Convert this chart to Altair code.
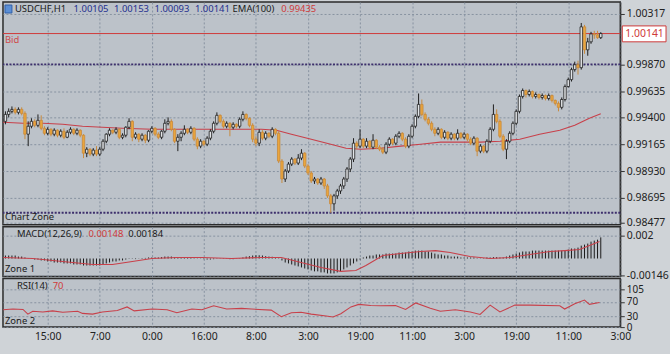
import altair as alt
import pandas as pd

# ---------------- data ----------------
open_ = [0.99369,0.99430,0.99457,0.99474,0.99448,0.99474,0.99439,0.99256,0.99326,0.99369,
         0.99334,0.99378,0.99308,0.99264,0.99299,0.99256,0.99291,0.99247,0.99282,0.99229,
         0.99273,0.99299,0.99264,0.99291,0.99247,0.99089,0.99124,0.99081,0.99116,0.99081,
         0.99124,0.99194,0.99256,0.99291,0.99273,0.99299,0.99229,0.99247,0.99317,0.99369,
         0.99229,0.99256,0.99212,0.99247,0.99203,0.99282,0.99308,0.99256,0.99229,0.99282,
         0.99352,0.99369,0.99299,0.99194,0.99229,0.99264,0.99299,0.99273,0.99308,0.99212,
         0.99151,0.99194,0.99168,0.99221,0.99282,0.99352,0.99422,0.99369,0.99326,0.99352,
         0.99317,0.99343,0.99326,0.99387,0.99430,0.99396,0.99334,0.99212,0.99177,0.99273,
         0.99221,0.99264,0.99238,0.99299,0.99264,0.99020,0.98862,0.98932,0.98993,0.99037,
         0.99002,0.99046,0.99089,0.98976,0.98915,0.98845,0.98862,0.98827,0.98862,0.98801,
         0.98714,0.98644,0.98714,0.98757,0.98801,0.98862,0.98950,0.99037,0.99177,0.99151,
         0.99212,0.99151,0.99194,0.99142,0.99203,0.99142,0.99124,0.99098,0.99168,0.99212,
         0.99177,0.99238,0.99264,0.99212,0.99151,0.99238,0.99326,0.99413,0.99518,0.99430,
         0.99387,0.99352,0.99299,0.99264,0.99299,0.99229,0.99273,0.99221,0.99256,0.99221,
         0.99264,0.99229,0.99256,0.99212,0.99177,0.99221,0.99107,0.99151,0.99107,0.99194,
         0.99299,0.99430,0.99369,0.99238,0.99124,0.99194,0.99264,0.99352,0.99457,0.99588,
         0.99640,0.99605,0.99631,0.99588,0.99605,0.99579,0.99596,0.99570,0.99596,0.99553,
         0.99527,0.99492,0.99561,0.99675,0.99736,0.99824,0.99867,0.99841,1.00200,0.99998,
         1.00068,1.00138,1.00130,1.00105]
high = [0.99457,0.99483,0.99500,0.99492,0.99492,0.99492,0.99457,0.99369,0.99396,0.99387,
        0.99430,0.99422,0.99326,0.99317,0.99308,0.99308,0.99299,0.99299,0.99308,0.99291,
        0.99317,0.99308,0.99308,0.99299,0.99256,0.99142,0.99133,0.99133,0.99151,0.99142,
        0.99212,0.99264,0.99308,0.99299,0.99317,0.99308,0.99264,0.99326,0.99396,0.99378,
        0.99273,0.99264,0.99264,0.99256,0.99291,0.99326,0.99317,0.99273,0.99291,0.99387,
        0.99404,0.99387,0.99308,0.99256,0.99282,0.99334,0.99308,0.99326,0.99317,0.99229,
        0.99212,0.99203,0.99238,0.99299,0.99369,0.99448,0.99430,0.99387,0.99369,0.99361,
        0.99361,0.99352,0.99404,0.99457,0.99439,0.99404,0.99352,0.99238,0.99299,0.99291,
        0.99282,0.99273,0.99317,0.99308,0.99282,0.99037,0.98950,0.99011,0.99054,0.99046,
        0.99081,0.99124,0.99098,0.98993,0.98932,0.98880,0.98871,0.98880,0.98871,0.98819,
        0.98731,0.98731,0.98775,0.98819,0.98880,0.98967,0.99054,0.99221,0.99194,0.99299,
        0.99221,0.99221,0.99203,0.99256,0.99212,0.99159,0.99142,0.99186,0.99229,0.99221,
        0.99256,0.99282,0.99273,0.99229,0.99256,0.99343,0.99430,0.99614,0.99561,0.99448,
        0.99404,0.99369,0.99317,0.99317,0.99308,0.99291,0.99282,0.99273,0.99264,0.99299,
        0.99273,0.99273,0.99264,0.99229,0.99238,0.99229,0.99168,0.99159,0.99212,0.99317,
        0.99518,0.99474,0.99387,0.99256,0.99212,0.99282,0.99369,0.99474,0.99605,0.99658,
        0.99649,0.99649,0.99640,0.99623,0.99614,0.99614,0.99605,0.99614,0.99605,0.99561,
        0.99544,0.99579,0.99693,0.99754,0.99841,0.99894,0.99902,1.00234,1.00217,1.00103,
        1.00156,1.00165,1.00165,1.00153]
low = [0.99343,0.99404,0.99439,0.99430,0.99430,0.99422,0.99212,0.99151,0.99308,0.99317,
       0.99317,0.99291,0.99247,0.99247,0.99238,0.99238,0.99229,0.99229,0.99212,0.99221,
       0.99256,0.99247,0.99247,0.99229,0.99046,0.99054,0.99063,0.99063,0.99063,0.99063,
       0.99107,0.99177,0.99238,0.99256,0.99256,0.99212,0.99212,0.99229,0.99299,0.99194,
       0.99212,0.99186,0.99194,0.99177,0.99186,0.99264,0.99238,0.99212,0.99212,0.99264,
       0.99334,0.99282,0.99177,0.99107,0.99194,0.99247,0.99256,0.99256,0.99194,0.99124,
       0.99133,0.99151,0.99151,0.99203,0.99264,0.99334,0.99352,0.99308,0.99308,0.99238,
       0.99299,0.99308,0.99308,0.99369,0.99378,0.99317,0.99186,0.99151,0.99151,0.99203,
       0.99203,0.99221,0.99221,0.99247,0.99002,0.98827,0.98836,0.98915,0.98976,0.98985,
       0.98985,0.99028,0.98958,0.98897,0.98827,0.98819,0.98810,0.98810,0.98775,0.98696,
       0.98565,0.98583,0.98688,0.98731,0.98775,0.98836,0.98923,0.99011,0.99124,0.99133,
       0.99133,0.99133,0.99124,0.99124,0.99124,0.99107,0.99081,0.99081,0.99151,0.99159,
       0.99159,0.99221,0.99194,0.99133,0.99133,0.99221,0.99308,0.99396,0.99413,0.99369,
       0.99334,0.99282,0.99238,0.99247,0.99212,0.99212,0.99203,0.99203,0.99203,0.99203,
       0.99212,0.99212,0.99194,0.99159,0.99159,0.99063,0.99089,0.99089,0.99089,0.99177,
       0.99282,0.99352,0.99221,0.99107,0.99037,0.99177,0.99247,0.99334,0.99439,0.99570,
       0.99579,0.99588,0.99570,0.99570,0.99561,0.99561,0.99553,0.99553,0.99535,0.99509,
       0.99457,0.99474,0.99544,0.99666,0.99719,0.99806,0.99780,0.99824,0.99963,0.99946,
       1.00051,1.00095,1.00095,1.00093]
close = [0.99430,0.99457,0.99474,0.99448,0.99474,0.99439,0.99256,0.99326,0.99369,0.99334,
         0.99378,0.99308,0.99264,0.99299,0.99256,0.99291,0.99247,0.99282,0.99229,0.99273,
         0.99299,0.99264,0.99291,0.99247,0.99089,0.99124,0.99081,0.99116,0.99081,0.99124,
         0.99194,0.99256,0.99291,0.99273,0.99299,0.99229,0.99247,0.99317,0.99369,0.99229,
         0.99256,0.99212,0.99247,0.99203,0.99282,0.99308,0.99256,0.99229,0.99282,0.99352,
         0.99369,0.99299,0.99194,0.99229,0.99264,0.99299,0.99273,0.99308,0.99212,0.99151,
         0.99194,0.99168,0.99221,0.99282,0.99352,0.99422,0.99369,0.99326,0.99352,0.99317,
         0.99343,0.99326,0.99387,0.99430,0.99396,0.99334,0.99212,0.99177,0.99273,0.99221,
         0.99264,0.99238,0.99299,0.99264,0.99020,0.98862,0.98932,0.98993,0.99037,0.99002,
         0.99046,0.99089,0.98976,0.98915,0.98845,0.98862,0.98827,0.98862,0.98801,0.98714,
         0.98644,0.98714,0.98757,0.98801,0.98862,0.98950,0.99037,0.99177,0.99151,0.99212,
         0.99151,0.99194,0.99142,0.99203,0.99142,0.99124,0.99098,0.99168,0.99212,0.99177,
         0.99238,0.99264,0.99212,0.99151,0.99238,0.99326,0.99413,0.99518,0.99430,0.99387,
         0.99352,0.99299,0.99264,0.99299,0.99229,0.99273,0.99221,0.99256,0.99221,0.99264,
         0.99229,0.99256,0.99212,0.99177,0.99221,0.99107,0.99151,0.99107,0.99194,0.99299,
         0.99430,0.99369,0.99238,0.99124,0.99194,0.99264,0.99352,0.99457,0.99588,0.99640,
         0.99605,0.99631,0.99588,0.99605,0.99579,0.99596,0.99570,0.99596,0.99553,0.99527,
         0.99492,0.99561,0.99675,0.99736,0.99824,0.99867,0.99841,1.00200,0.99998,1.00068,
         1.00138,1.00130,1.00105,1.00141]

ema_idx = [0.3,6.4,12.5,18.6,24.7,30.8,36.9,46.0,61.4,79.7,84.3,88.9,95.0,101.0,105.7,
           110.2,116.3,122.5,128.6,134.7,147.0,153.0,159.1,165.2,171.4,176.0,180.5,184.0]
ema_val = [0.99361,0.99352,0.99352,0.99343,0.99326,0.99317,0.99308,0.99299,0.99299,0.99299,
           0.99291,0.99256,0.99212,0.99168,0.99133,0.99124,0.99133,0.99151,0.99168,0.99186,
           0.99186,0.99194,0.99212,0.99256,0.99291,0.99334,0.99396,0.99435]

macd_hist = [0.00026,0.00026,0.00026,0.00026,0.00017,0.00017,0.00009,0.00002,-0.00002,
             -0.00009,-0.00009,-0.00017,-0.00017,-0.00026,-0.00026,-0.00035,-0.00035,-0.00035,
             -0.00043,-0.00043,-0.00043,-0.00052,-0.00052,-0.00052,-0.00061,-0.00061,-0.00061,-0.00061,-0.00061,-0.00061,-0.00052,
             -0.00043,-0.00035,-0.00026,-0.00026,-0.00017,-0.00017,
             -0.00009,-0.00003,0.00003,-0.00005,0.00002,0.00004,0.00005,0.00009,0.00009,
             0.00009,0.00009,0.00012,0.00017,0.00017,0.00017,0.00012,0.00009,0.00009,0.00009,0.00009,0.00006,0.00003,0.00002,-0.00002,
             -0.00006,-0.00009,-0.00009,-0.00006,-0.00003,0.00002,0.00003,-0.00003,-0.00006,-0.00006,-0.00002,0.00003,
             0.00009,0.00017,0.00020,0.00026,0.00028,0.00028,0.00026,0.00020,0.00017,0.00015,
             0.00009,-0.00003,-0.00017,-0.00035,-0.00043,-0.00052,-0.00061,-0.00069,-0.00078,-0.00087,-0.00095,-0.00104,-0.00112,-0.00112,-0.00121,-0.00121,-0.00130,-0.00130,-0.00130,
             -0.00121,-0.00112,-0.00095,-0.00078,-0.00061,
             -0.00043,-0.00026,-0.00009,
             0.00009,0.00017,0.00026,0.00026,0.00035,0.00035,0.00035,
             0.00043,0.00043,0.00043,0.00043,0.00052,0.00052,0.00052,0.00061,0.00061,0.00069,0.00069,0.00069,
             0.00061,0.00061,0.00052,0.00043,0.00035,0.00035,
             0.00026,0.00026,0.00017,0.00017,0.00017,0.00009,0.00009,0.00009,0.00009,0.00009,
             0.00003,0.00002,0.00003,0.00009,0.00009,0.00012,0.00012,0.00009,0.00009,
             0.00017,0.00026,0.00035,0.00043,0.00052,0.00061,0.00061,0.00061,0.00069,0.00069,0.00069,0.00069,0.00069,0.00069,0.00069,0.00069,
             0.00069,0.00069,0.00069,0.00078,0.00087,0.00087,0.00095,
             0.00112,0.00121,0.00130,0.00147,0.00156,0.00164,0.00184]

sig_idx = [0.3,9.4,18.6,27.8,33.9,40.0,46.0,53.7,61.4,70.5,79.7,85.8,91.9,98.0,104.1,108.7,
           111.8,117.0,122.5,128.6,133.2,137.7,143.8,150.0,156.1,162.2,168.3,172.9,177.5,183.6]
sig_val = [0.00009,0.0,-0.00026,-0.00052,-0.00052,-0.00026,0.0,0.00009,0.00009,0.0,0.00009,
           0.00009,-0.00035,-0.00078,-0.00112,-0.00104,-0.00061,0.00026,0.00043,0.00061,
           0.00069,0.00052,0.00017,0.0,0.00009,0.00035,0.00061,0.00069,0.00078,0.00148]

rsi_idx = [0.3,3.3,6.4,7.9,9.4,12.5,15.5,18.6,23.2,24.7,27.8,30.8,35.4,38.4,40.6,46.1,50.7,
           53.7,58.3,61.4,65.0,69.0,73.6,76.6,82.7,85.8,88.9,91.9,95.0,99.6,101.7,104.1,107.2,
           109.6,113.3,116.3,120.9,124.0,127.1,131.6,134.7,139.3,143.9,146.9,150.0,153.0,
           157.6,162.2,171.4,172.9,176.0,179.0,180.5,183.6]
rsi_val = [48,50,49,36,44,42,45,41,44,38,36,42,46,56,45,50,48,40,50,48,59,50,52,50,47,29,40,
           41,36,31,28,37,56,63,60,59,60,49,67,52,44,48,42,35,61,42,61,61,59,50,65,75,63,68]

price_ticks = [1.00317, 0.99870, 0.99635, 0.99400, 0.99165, 0.98930, 0.98695, 0.98477]
bid_price = close[-1]
zone_level = 0.99870
chart_zone_level = 0.98565
macd_ticks = [0.002, -0.00146]
macd_tick_labels = ["0.002", "-0.00146"]
rsi_ticks = [105, 70, 30, 0]
time_tick_idx = [14 + 16 * k for k in range(12)]
time_labels = ["15:00", "7:00", "0:00", "16:00", "8:00", "3:00",
               "19:00", "11:00", "3:00", "19:00", "11:00", "3:00"]
symbol = "USDCHF,H1"
ema_label = "EMA(100)"
macd_label = "MACD(12,26,9)"
macd_vals = ["0.00148", "0.00184"]
rsi_label = "RSI(14)"
rsi_last = "70"

# ---------------- frames ----------------
bars = pd.DataFrame({"i": list(range(1, len(close) + 1)), "o": open_, "h": high,
                     "l": low, "c": close})
bars["dir"] = ["up" if c >= o else "down" for o, c in zip(open_, close)]
bars["xl"] = bars["i"] - 0.37
bars["xr"] = bars["i"] + 0.37
ema = pd.DataFrame({"i": ema_idx, "v": ema_val})
macd = pd.DataFrame({"i": list(range(1, len(macd_hist) + 1)), "m": macd_hist})
macd["z"] = 0.0
sig = pd.DataFrame({"i": sig_idx, "v": sig_val})
rsi = pd.DataFrame({"i": rsi_idx, "v": rsi_val})

W = 621
FONT = "Noto Sans"
TS = 9.5
GRID = "#8792a0"
xscale = alt.Scale(domain=[0.25, 190], nice=False, zero=False)
lab_expr = "[" + ",".join("'%s'" % t for t in time_labels) + "][round((datum.value-14)/16)]"

X_HIDDEN_AXIS = alt.Axis(values=time_tick_idx, labels=False, ticks=False, domain=False,
                         grid=True, gridDash=[2, 2], gridColor=GRID, title=None,
                         minExtent=0, maxExtent=0, labelPadding=0, offset=0)
X_BOTTOM_AXIS = alt.Axis(values=time_tick_idx, labelExpr=lab_expr, ticks=False, domain=False,
                         grid=True, gridDash=[2, 2], gridColor=GRID, labelFont=FONT,
                         labelFontSize=10.5, labelColor="#222", labelPadding=4,
                         labelOverlap=False, labelBound=False, labelFlush=False,
                         minExtent=27, maxExtent=27, title=None)

def yaxis(values, fmt=None, expr=None, size=10.5):
    kw = dict(values=values, orient="right", grid=True, gridDash=[2, 2], gridColor=GRID,
              tickSize=4, tickColor="#333", domainColor="#333", labelPadding=2,
              labelFont=FONT, labelFontSize=size, labelColor="#222", minExtent=49,
              maxExtent=49, title=None, labelOverlap=False, labelBound=False,
              labelFlush=False)
    if fmt:
        kw["format"] = fmt
    if expr:
        kw["labelExpr"] = expr
    return alt.Axis(**kw)

def txt(text, x, y, color="#1a1a1a", size=TS):
    return alt.Chart(alt.Data(values=[{}])).mark_text(
        text=text, align="left", baseline="middle", font=FONT, fontSize=size, color=color
    ).encode(x=alt.value(x), y=alt.value(y))

pscale = alt.Scale(domain=[0.98460, 1.00418], nice=False, zero=False)
P_AXIS = yaxis(price_ticks, fmt=".5f")
def PY(f):
    return alt.Y(f, type="quantitative", scale=pscale, axis=P_AXIS)
def XH(f):
    return alt.X(f, type="quantitative", scale=xscale, axis=X_HIDDEN_AXIS)

dir_col = alt.Scale(domain=["up", "down"], range=["#1e1e1e", "#c98a3c"])
dir_fill = alt.Scale(domain=["up", "down"], range=["#e2e5e8", "#eaa63c"])

base = alt.Chart(bars)
wicks = base.mark_rule(strokeWidth=1).encode(
    x=XH("i"), y=PY("l"), y2="h:Q",
    color=alt.Color("dir:N", scale=dir_col, legend=None),
)
bodies = base.mark_rect(strokeWidth=0.8).encode(
    x=XH("xl"), x2="xr:Q", y=PY("o"), y2="c:Q",
    fill=alt.Fill("dir:N", scale=dir_fill, legend=None),
    stroke=alt.Stroke("dir:N", scale=dir_col, legend=None),
)
ema_line = alt.Chart(ema).mark_line(color="#c8404a", strokeWidth=1.1).encode(
    x=XH("i"), y=PY("v"))
lines = alt.Chart(pd.DataFrame({"v": [bid_price]})).mark_rule(
    color="#cf3a3a", strokeWidth=1).encode(y=PY("v"))
zones = alt.Chart(pd.DataFrame({"v": [zone_level, chart_zone_level]})).mark_rule(
    color="#3d2f6c", strokeWidth=2, strokeDash=[2, 1.5]).encode(y=PY("v"))
bid_box = alt.Chart(alt.Data(values=[{}])).mark_rect(
    fill="white", stroke="#cf3a3a", strokeWidth=1).encode(
    x=alt.value(623), x2=alt.value(667), y=alt.value(24), y2=alt.value(40))
bid_txt = txt("%.5f" % bid_price, 626, 32, "#cf3a3a", 10.5)

title_parts = [txt(symbol, 12, 7)]
vals = ["%.5f" % v for v in (open_[-1], high[-1], low[-1], close[-1])]
for k, v in enumerate(vals):
    title_parts.append(txt(v, 71 + k * 40.7, 7, "#1f2f8f"))
title_parts.append(txt(ema_label, 231, 7))
title_parts.append(txt("%.5f" % ema_val[-1], 280, 7, "#cf3a3a"))
icon = alt.Chart(alt.Data(values=[{}])).mark_rect(fill="#5b8fd6", stroke="#2f5fa8").encode(
    x=alt.value(2), x2=alt.value(9), y=alt.value(3), y2=alt.value(11))

price = alt.layer(
    zones, lines, ema_line, wicks, bodies, bid_box, bid_txt, icon, *title_parts,
    txt("Bid", 2, 38, "#cf4a4a"),
    txt("Chart Zone", 2, 216, "#222"),
).properties(width=W, height=224)

mscale = alt.Scale(domain=[-0.00156, 0.00277], nice=False, zero=False)
m_expr = "datum.value > 0 ? '%s' : '%s'" % tuple(macd_tick_labels)
M_AXIS = yaxis(macd_ticks, expr=m_expr)
hist = alt.Chart(macd).mark_rule(color="#1a1a1a", strokeWidth=1).encode(
    x=XH("i"),
    y=alt.Y("m:Q", scale=mscale, axis=M_AXIS),
    y2="z:Q",
)
sig_line = alt.Chart(sig).mark_line(color="#c8404a", strokeWidth=1.1).encode(
    x=XH("i"), y=alt.Y("v:Q", scale=mscale, axis=M_AXIS))
macd_panel = alt.layer(
    hist, sig_line,
    txt(macd_label, 14, 7), txt(macd_vals[0], 86, 7, "#cf3a3a"), txt(macd_vals[1], 126, 7),
    txt("Zone 1", 2, 43),
).properties(width=W, height=50)

rscale = alt.Scale(domain=[0, 135], nice=False, zero=False)
rsi_line = alt.Chart(rsi).mark_line(color="#c8404a", strokeWidth=1.1).encode(
    x=alt.X("i:Q", scale=xscale, axis=X_BOTTOM_AXIS),
    y=alt.Y("v:Q", scale=rscale, axis=yaxis(rsi_ticks, size=10)),
)
rsi_panel = alt.layer(
    rsi_line,
    txt(rsi_label, 14, 8), txt(rsi_last, 50, 8, "#cf3a3a"),
    txt("Zone 2", 2, 43),
).properties(width=W, height=49)

chart = alt.vconcat(price, macd_panel, rsi_panel, spacing=2, bounds="flush").properties(
    padding=0, background="#cfd3d7"
).configure_view(
    fill="#bcc2c9", stroke="#2b2b2b", strokeWidth=1.5
).configure_axis(labelFont=FONT)

chart.save("out.html", embed_options={"renderer": "svg", "actions": False})
